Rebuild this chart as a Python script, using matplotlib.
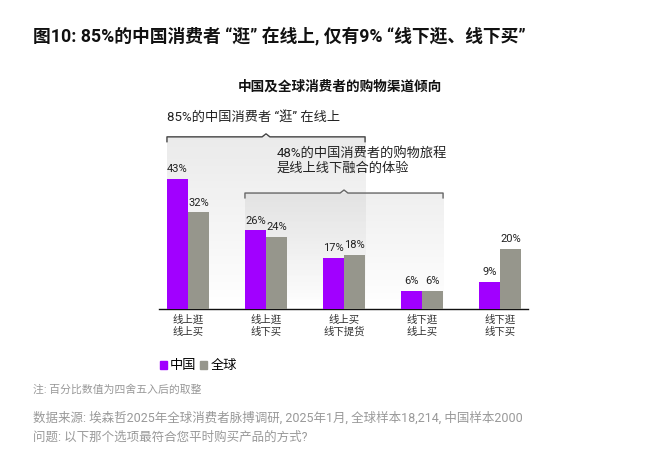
import numpy as np
import matplotlib
matplotlib.use("Agg")
import matplotlib.pyplot as plt
import matplotlib.patches as mpatches

# 拉丁字符用 Roboto，中文回退到 Noto Sans CJK SC
plt.rcParams["font.family"] = ["Roboto", "Noto Sans CJK SC", "DejaVu Sans"]

# ── 数据 ────────────────────────────────────────────────────────────
CATEGORIES = ["线上逛\n线上买", "线上逛\n线下买", "线上买\n线下提货", "线下逛\n线上买", "线下逛\n线下买"]
CHINA = [43, 26, 17, 6, 9]
GLOBAL = [32, 24, 18, 6, 20]
SERIES_NAMES = ["中国", "全球"]

PURPLE = "#A100FF"
GRAY = "#96968C"

W, H = 654, 468
fig = plt.figure(figsize=(W / 100, H / 100), dpi=100)

# 轴区域按像素定位
ax_l, ax_r, ax_b, ax_t = 159, 528, 309, 100
ax = fig.add_axes([ax_l / W, 1 - ax_b / H, (ax_r - ax_l) / W, (ax_b - ax_t) / H])

x = np.arange(len(CATEGORIES))
bw = 0.27
ax.bar(x - bw / 2, CHINA, bw, color=PURPLE, zorder=3)
ax.bar(x + bw / 2, GLOBAL, bw, color=GRAY, zorder=3)

for xi, v in zip(x - bw / 2, CHINA):
    ax.text(xi, v + 1.6, f"{v}%", ha="center", va="bottom", fontsize=8, color="#222", zorder=4)
for xi, v in zip(x + bw / 2, GLOBAL):
    ax.text(xi, v + 1.6, f"{v}%", ha="center", va="bottom", fontsize=8, color="#222", zorder=4)

ax.set_xlim(-0.372, 4.359)
ax.set_ylim(0, 209 / 3.02)
ax.set_xticks(x)
ax.set_xticklabels(CATEGORIES, fontsize=7.5, color="#333", linespacing=1.25)
ax.tick_params(axis="x", length=0, pad=4)
ax.set_yticks([])
for s in ["top", "right", "left"]:
    ax.spines[s].set_visible(False)
ax.spines["bottom"].set_color("#111")
ax.spines["bottom"].set_linewidth(1.0)


# ── 渐变底色 + 括号 ────────────────────────────────────────────────
def shade(x0, x1, ytop, a0=0.2):
    n = 200
    grad = np.zeros((n, 2, 4))
    grad[..., :3] = 0.55
    grad[..., 3] = np.linspace(a0, 0.0, n)[:, None]
    ax.imshow(grad, extent=[x0, x1, 0, ytop], aspect="auto", origin="upper",
              interpolation="bilinear", zorder=1)


def bracket(x0, x1, y, color="#555"):
    h = 1.6
    d = 0.05
    n = 1.0
    xc = (x0 + x1) / 2
    ax.plot([x0, x0, xc - d, xc, xc + d, x1, x1],
            [y - h, y, y, y + n, y, y, y - h],
            color=color, lw=1.0, zorder=2, clip_on=False)


# 85% 括号: 组0~2
shade(-bw, 2 + bw, 57.0, a0=0.18)
bracket(-bw, 2 + bw, 57.0, color="#444")
# 48% 括号: 组1~3
shade(1 - bw, 3 + bw, 38.4, a0=0.14)
bracket(1 - bw, 3 + bw, 38.4, color="#666")

ax.text(-bw, 63.5, "85%的中国消费者 “逛” 在线上", ha="left", va="center",
        fontsize=9.5, color="#222")
ax.text(1.14, 44.5, "48%的中国消费者的购物旅程\n是线上线下融合的体验", ha="left", va="bottom",
        fontsize=9.5, color="#222", linespacing=1.2)

# ── 标题 ─────────────────────────────────────────────────────────────
fig.text(33 / W, 1 - 37 / H, "图10: 85%的中国消费者 “逛” 在线上, 仅有9% “线下逛、线下买”",
         ha="left", va="center", fontsize=12.8, fontweight="bold", color="#111")
fig.text(340 / W, 1 - 87 / H, "中国及全球消费者的购物渠道倾向",
         ha="center", va="center", fontsize=9.8, fontweight="bold", color="#111")

# ── 图例 ─────────────────────────────────────────────────────────────
handles = [mpatches.Patch(color=PURPLE, label=SERIES_NAMES[0]),
           mpatches.Patch(color=GRAY, label=SERIES_NAMES[1])]
fig.legend(handles=handles, loc="center left", bbox_to_anchor=(160 / W, 1 - 366 / H),
           ncol=2, frameon=False, fontsize=9.5, handlelength=0.5, handleheight=0.5,
           handletextpad=0.25, columnspacing=0.3, borderpad=0, borderaxespad=0)

# ── 注释 ─────────────────────────────────────────────────────────────
fig.text(33 / W, 1 - 390 / H, "注: 百分比数值为四舍五入后的取整",
         ha="left", va="center", fontsize=7.8, color="#999")
fig.text(33 / W, 1 - 418 / H,
         "数据来源: 埃森哲2025年全球消费者脉搏调研, 2025年1月, 全球样本18,214, 中国样本2000",
         ha="left", va="center", fontsize=9, color="#999")
fig.text(33 / W, 1 - 437 / H, "问题: 以下那个选项最符合您平时购买产品的方式?",
         ha="left", va="center", fontsize=9, color="#999")

fig.savefig("out.png", dpi=100, facecolor="white")
